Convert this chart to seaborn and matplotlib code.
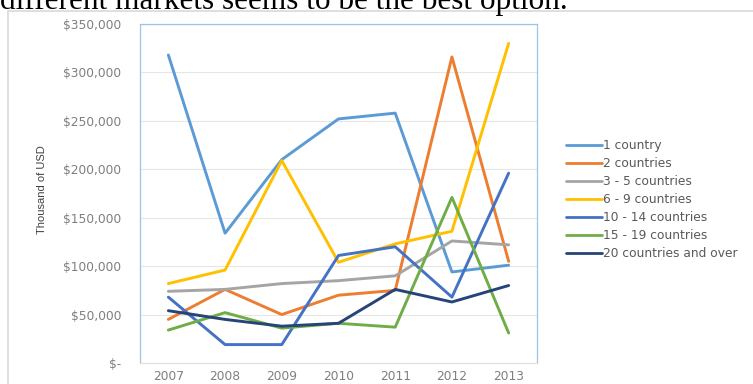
import matplotlib
matplotlib.use("Agg")
import matplotlib.pyplot as plt
import seaborn as sns
import pandas as pd
from matplotlib.patches import Rectangle
from matplotlib.ticker import FuncFormatter

years = ["2007", "2008", "2009", "2010", "2011", "2012", "2013"]
series_names = ["1 country", "2 countries", "3 - 5 countries", "6 - 9 countries",
                "10 - 14 countries", "15 - 19 countries", "20 countries and over"]
one_country = [318000, 134000, 210000, 252000, 258000, 94000, 101000]
two_countries = [45000, 76000, 50000, 70000, 75000, 316000, 105000]
three_five = [74000, 76000, 82000, 85000, 90000, 126000, 122000]
six_nine = [82000, 96000, 209000, 104000, 123000, 136000, 330000]
ten_fourteen = [68000, 19000, 19000, 111000, 120000, 68000, 196000]
fifteen_nineteen = [34000, 52000, 36000, 41000, 37000, 171000, 31000]
twenty_over = [54000, 45000, 38000, 41000, 76000, 63000, 80000]
colors = ["#5B9BD5", "#ED7D31", "#A5A5A5", "#FFC000", "#4472C4", "#70AD47", "#264478"]

all_values = [one_country, two_countries, three_five, six_nine,
              ten_fourteen, fifteen_nineteen, twenty_over]
rows = []
for name, vals in zip(series_names, all_values):
    for i, (y, v) in enumerate(zip(years, vals)):
        rows.append({"idx": i, "year": y, "series": name, "value": v})
df = pd.DataFrame(rows)

sns.set_style("white")
plt.rcParams["font.family"] = ["DejaVu Sans"]

W, H = 753, 384
fig = plt.figure(figsize=(W / 100, H / 100), dpi=100)

# outer frame
fig.patches.append(Rectangle((8 / W, -0.1), 1.2, 1.1 - 11 / H,
                             transform=fig.transFigure, fill=False,
                             edgecolor="#D9D9D9", linewidth=1.2, zorder=0))
fig.text(0 / W, 1 - 9 / H, "different markets seems to be the best option.",
         family="Liberation Serif", fontsize=22.5, va="baseline", ha="left", color="black")

ax = fig.add_axes([140 / W, 1 - 363 / H, (537 - 140) / W, (363 - 24) / H])
sns.lineplot(data=df, x="idx", y="value", hue="series", palette=colors,
             hue_order=series_names, linewidth=2.1, ax=ax, legend=False,
             sort=False, estimator=None)
ax.set_xlim(-0.5, 6.5)
ax.set_ylim(0, 350000)
ax.set_xticks(range(len(years)))
ax.set_xticklabels(years)
ax.set_yticks(range(0, 350001, 50000))
ax.yaxis.set_major_formatter(FuncFormatter(lambda v, p: "$-" if v == 0 else f"${int(v):,}"))
ax.tick_params(axis="both", labelsize=8.8, colors="#7F7F7F", length=0, pad=5)
ax.tick_params(axis="y", pad=13.5)
ax.grid(axis="y", color="#E6E6E6", linewidth=0.8)
ax.set_axisbelow(True)
for s in ["left", "right", "top"]:
    ax.spines[s].set_color("#9DC3E6")
    ax.spines[s].set_linewidth(0.9)
ax.spines["bottom"].set_color("#E0E0E0")
ax.set_xlabel("")
ax.set_ylabel("")
fig.text(42 / W, 1 - 190 / H, "Thousand of USD", rotation=90, ha="center", va="center",
         fontsize=8, color="#404040", family=["Liberation Sans", "DejaVu Sans"])

handles = [plt.Line2D([], [], color=c, linewidth=2) for c in colors]
fig.legend(handles, series_names, loc="upper left",
           bbox_to_anchor=(561 / W, 1 - 134 / H), frameon=False,
           fontsize=8.8, labelcolor="#595959", handlelength=2.95, handletextpad=0.05,
           labelspacing=0.41, borderaxespad=0)

fig.savefig("out.png", dpi=100)
